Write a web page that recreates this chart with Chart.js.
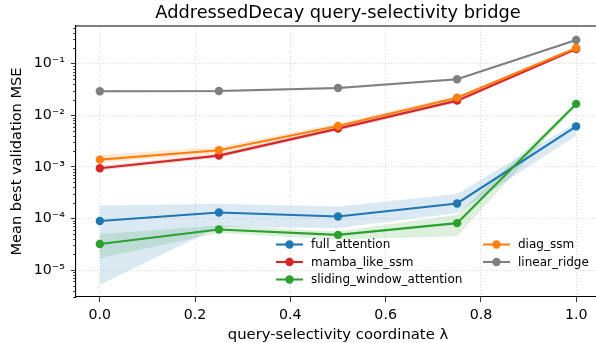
<!DOCTYPE html>
<html>
<head>
<meta charset="utf-8">
<script src="https://cdn.jsdelivr.net/npm/chart.js@4/dist/chart.umd.min.js"></script>
<style>
  html, body { margin: 0; padding: 0; overflow: hidden; background: #fff; }
  canvas { display: block; }
</style>
</head>
<body>
<canvas id="bridge" width="608" height="343"></canvas>
<script>
// query-selectivity coordinate
var lambdas = [0.0, 0.25, 0.5, 0.75, 1.0];
var xTicks = [0.0, 0.2, 0.4, 0.6, 0.8, 1.0];

var seriesNames = ['full_attention', 'mamba_like_ssm', 'sliding_window_attention', 'diag_ssm', 'linear_ridge'];
var seriesColors = ['#1f77b4', '#d62728', '#2ca02c', '#ff7f0e', '#7f7f7f'];
var chartTitle = 'AddressedDecay query-selectivity bridge';

// mean best validation MSE per series
var fullAttention = [8.9e-5, 1.30e-4, 1.09e-4, 1.95e-4, 6.1e-3];
var mambaLike     = [9.4e-4, 1.65e-3, 5.5e-3, 1.92e-2, 0.192];
var slidingWindow = [3.2e-5, 6.1e-5, 4.8e-5, 8.1e-5, 1.66e-2];
var diagSsm       = [1.38e-3, 2.1e-3, 6.2e-3, 2.19e-2, 0.201];
var linearRidge   = [0.0292, 0.0295, 0.0338, 0.0498, 0.288];

// spread bands (low / high)
var fullAttentionLo = [5.2e-6, 6.8e-5, 6.5e-5, 1.27e-4, 4.0e-3];
var fullAttentionHi = [1.78e-4, 1.92e-4, 1.7e-4, 2.96e-4, 7.2e-3];
var mambaLikeLo     = [8.5e-4, 1.5e-3, 5.0e-3, 1.75e-2, 0.180];
var mambaLikeHi     = [1.05e-3, 1.8e-3, 6.0e-3, 2.1e-2, 0.205];
var slidingWindowLo = [1.7e-5, 5.2e-5, 3.9e-5, 4.5e-5, 1.55e-2];
var slidingWindowHi = [5.0e-5, 7.3e-5, 5.6e-5, 1.18e-4, 1.78e-2];
var diagSsmLo       = [1.2e-3, 1.8e-3, 5.5e-3, 2.0e-2, 0.190];
var diagSsmHi       = [1.7e-3, 2.45e-3, 7.0e-3, 2.4e-2, 0.212];
var linearRidgeLo   = [0.0275, 0.0280, 0.0320, 0.0470, 0.280];
var linearRidgeHi   = [0.0310, 0.0310, 0.0355, 0.0520, 0.296];

var means = [fullAttention, mambaLike, slidingWindow, diagSsm, linearRidge];
var lows = [fullAttentionLo, mambaLikeLo, slidingWindowLo, diagSsmLo, linearRidgeLo];
var highs = [fullAttentionHi, mambaLikeHi, slidingWindowHi, diagSsmHi, linearRidgeHi];

var yMin = 3.0e-6, yMax = 0.537;

function pts(vals) {
  return vals.map(function (v, i) { return { x: lambdas[i], y: v }; });
}
function hexA(hex, a) {
  var n = parseInt(hex.slice(1), 16);
  return 'rgba(' + (n >> 16) + ',' + ((n >> 8) & 255) + ',' + (n & 255) + ',' + a + ')';
}

var datasets = [];
// bands first
seriesNames.forEach(function (name, k) {
  datasets.push({
    label: name + '_hi', data: pts(highs[k]), band: true,
    borderWidth: 0, pointRadius: 0, fill: false, order: 30 + k
  });
  datasets.push({
    label: name + '_lo', data: pts(lows[k]), band: true,
    borderWidth: 0, pointRadius: 0, fill: '-1',
    backgroundColor: hexA(seriesColors[k], 0.16), order: 30 + k
  });
});
// lines
seriesNames.forEach(function (name, k) {
  datasets.push({
    label: name, data: pts(means[k]),
    borderColor: seriesColors[k], backgroundColor: seriesColors[k],
    pointBackgroundColor: seriesColors[k], pointBorderColor: seriesColors[k],
    borderWidth: 2.1, pointRadius: 4.2, pointBorderWidth: 0,
    fill: false, tension: 0, order: 10 - k
  });
});

var supers = { '-': '\u207B', '0': '\u2070', '1': '\u00B9', '2': '\u00B2', '3': '\u00B3',
  '4': '\u2074', '5': '\u2075', '6': '\u2076', '7': '\u2077', '8': '\u2078', '9': '\u2079' };
function pow10Label(v) {
  var e = Math.round(Math.log10(v));
  return '10' + String(e).split('').map(function (c) { return supers[c]; }).join('');
}
function isMajor(v) {
  var l = Math.log10(v);
  return Math.abs(l - Math.round(l)) < 1e-9;
}

var frame = {
  id: 'frame',
  afterDatasetsDraw: function (chart) {
    var ctx = chart.ctx, a = chart.chartArea, ys = chart.scales.y;
    ctx.save();
    // top and right spines
    ctx.strokeStyle = '#000';
    ctx.lineWidth = 1.1;
    ctx.beginPath();
    ctx.moveTo(a.left, a.top);
    ctx.lineTo(a.right, a.top);
    ctx.lineTo(a.right, a.bottom);
    ctx.stroke();
    // minor ticks on log axis
    ctx.lineWidth = 0.8;
    ys.ticks.forEach(function (t) {
      if (isMajor(t.value)) return;
      var y = Math.round(ys.getPixelForValue(t.value)) + 0.5;
      ctx.beginPath();
      ctx.moveTo(a.left, y);
      ctx.lineTo(a.left - 2.8, y);
      ctx.stroke();
    });
    // title centred over the plot area
    ctx.fillStyle = '#000';
    ctx.font = '17.8px "DejaVu Sans"';
    ctx.textAlign = 'center';
    ctx.textBaseline = 'middle';
    ctx.fillText(chartTitle, (a.left + a.right) / 2, 13.7);
    ctx.restore();
  }
};

var legendBox = {
  id: 'legendBox',
  afterDraw: function (chart) {
    var ctx = chart.ctx;
    var cols = [276, 483], rows = [244.5, 262, 279.5];
    ctx.save();
    ctx.font = '12px "DejaVu Sans"';
    ctx.textBaseline = 'middle';
    var lineSets = chart.data.datasets.filter(function (d) { return !d.band; });
    lineSets.forEach(function (d, i) {
      var x = cols[Math.floor(i / 3)], y = rows[i % 3];
      ctx.strokeStyle = d.borderColor;
      ctx.lineWidth = 2.1;
      ctx.beginPath();
      ctx.moveTo(x, y);
      ctx.lineTo(x + 27, y);
      ctx.stroke();
      ctx.fillStyle = d.borderColor;
      ctx.beginPath();
      ctx.arc(x + 13.5, y, 4.2, 0, Math.PI * 2);
      ctx.fill();
      ctx.fillStyle = '#000';
      ctx.fillText(d.label, x + 35, y + 0.5);
    });
    ctx.restore();
  }
};

Chart.defaults.font.family = '"DejaVu Sans", sans-serif';
Chart.defaults.color = '#000';

var ctx = document.getElementById('bridge').getContext('2d');
var chart = new Chart(ctx, {
  type: 'line',
  data: { datasets: datasets },
  options: {
    responsive: false,
    animation: false,
    layout: { padding: { left: 0, right: 8, top: 26, bottom: 0 } },
    plugins: {
      legend: { display: false },
      tooltip: { enabled: false },
      title: { display: false }
    },
    scales: {
      x: {
        type: 'linear',
        min: -0.05, max: 1.05,
        afterBuildTicks: function (s) { s.ticks = xTicks.map(function (v) { return { value: v }; }); },
        afterFit: function (s) { s.height = 46; },
        ticks: {
          font: { size: 14.2 }, color: '#000', padding: 5, autoSkip: false, maxRotation: 0,
          callback: function (v) { return Number(v).toFixed(1); }
        },
        grid: { color: 'rgba(0,0,0,0.2)', lineWidth: 0.8, tickColor: '#000', tickLength: 5, tickWidth: 0.8 },
        border: { display: true, color: '#000', width: 1.1, dash: [1, 2] },
        title: {
          display: true, text: 'query-selectivity coordinate \u03BB',
          font: { size: 14.8 }, color: '#000', padding: { top: 0, bottom: -1 }
        }
      },
      y: {
        type: 'logarithmic',
        min: yMin, max: yMax,
        afterBuildTicks: function (s) {
          var t = [];
          for (var e = -6; e <= -1; e++) {
            for (var m = 1; m <= 9; m++) {
              var v = m * Math.pow(10, e);
              if (v >= yMin && v <= yMax) t.push({ value: v, major: m === 1 });
            }
          }
          s.ticks = t;
        },
        afterFit: function (s) { s.width = 76; },
        ticks: {
          font: { size: 14.2 }, color: '#000', padding: 6, autoSkip: false,
          callback: function (v) { return isMajor(v) ? pow10Label(v) : ''; }
        },
        grid: {
          color: function (c) { return c.tick && isMajor(c.tick.value) ? 'rgba(0,0,0,0.2)' : 'rgba(0,0,0,0)'; },
          tickColor: function (c) { return c.tick && isMajor(c.tick.value) ? '#000' : 'rgba(0,0,0,0)'; },
          lineWidth: 0.8, tickLength: 5, tickWidth: 0.8
        },
        border: { display: true, color: '#000', width: 1.1, dash: [1, 2] },
        title: {
          display: true, text: 'Mean best validation MSE',
          font: { size: 14.6 }, color: '#000', padding: { top: 8, bottom: 0 }
        }
      }
    }
  },
  plugins: [frame, legendBox]
});
</script>
</body>
</html>
